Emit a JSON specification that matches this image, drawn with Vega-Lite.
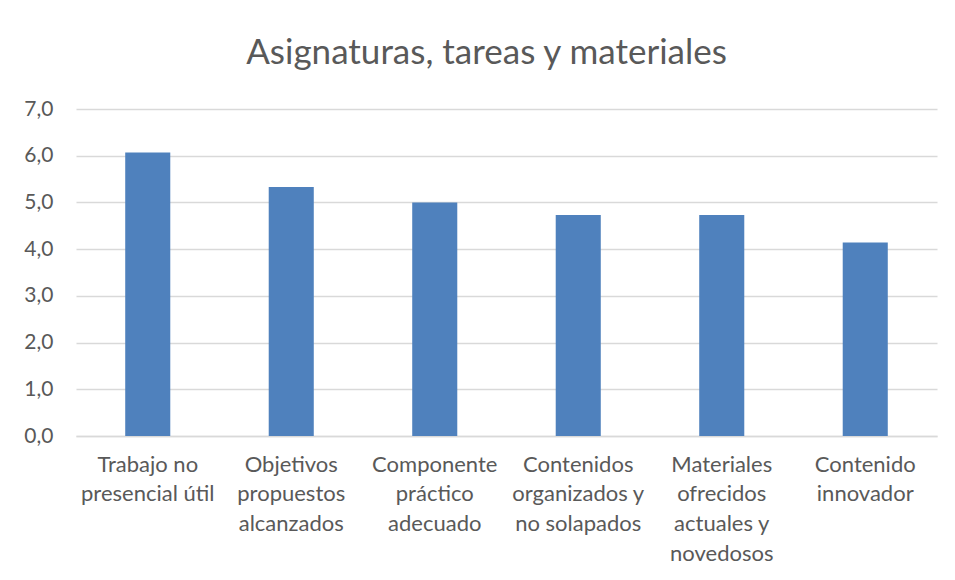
{
  "$schema": "https://vega.github.io/schema/vega-lite/v6.json",
  "width": 861,
  "height": 327,
  "autosize": {"type": "none"},
  "padding": {"left": 76, "top": 109, "right": 18, "bottom": 144},
  "background": "white",
  "data": {
    "values": [
      {"item": "Trabajo no presencial útil", "value": 6.07},
      {"item": "Objetivos propuestos alcanzados", "value": 5.33},
      {"item": "Componente práctico adecuado", "value": 5.0},
      {"item": "Contenidos organizados y no solapados", "value": 4.73},
      {"item": "Materiales ofrecidos actuales y novedosos", "value": 4.73},
      {"item": "Contenido innovador", "value": 4.14}
    ]
  },
  "title": {
    "text": "Asignaturas, tareas y materiales",
    "anchor": "middle",
    "frame": "group",
    "dx": -20,
    "offset": 27,
    "font": "Lato",
    "fontSize": 35,
    "fontWeight": "normal",
    "color": "#595959"
  },
  "mark": {"type": "bar", "color": "#4F81BD"},
  "encoding": {
    "x": {
      "field": "item",
      "type": "nominal",
      "sort": null,
      "scale": {"paddingInner": 0.686, "paddingOuter": 0.343},
      "axis": {
        "title": null,
        "labelAngle": 0,
        "labelExpr": "datum.label == 'Trabajo no presencial útil' ? ['Trabajo no', 'presencial útil'] : datum.label == 'Objetivos propuestos alcanzados' ? ['Objetivos', 'propuestos', 'alcanzados'] : datum.label == 'Componente práctico adecuado' ? ['Componente', 'práctico', 'adecuado'] : datum.label == 'Contenidos organizados y no solapados' ? ['Contenidos', 'organizados y', 'no solapados'] : datum.label == 'Materiales ofrecidos actuales y novedosos' ? ['Materiales', 'ofrecidos', 'actuales y', 'novedosos'] : ['Contenido', 'innovador']",
        "ticks": false,
        "domainColor": "#D9D9D9",
        "domainWidth": 1.5,
        "labelFont": "Lato",
        "labelFontSize": 22,
        "labelColor": "#595959",
        "labelLineHeight": 29.7,
        "labelPadding": 18,
        "labelBaseline": "top",
        "labelLimit": 200
      }
    },
    "y": {
      "field": "value",
      "type": "quantitative",
      "scale": {"domain": [0, 7]},
      "axis": {
        "title": null,
        "values": [0, 1, 2, 3, 4, 5, 6, 7],
        "labelExpr": "replace(format(datum.value, '.1f'), '.', ',')",
        "ticks": false,
        "domain": false,
        "gridColor": "#D9D9D9",
        "gridWidth": 1.5,
        "labelFont": "Lato",
        "labelFontSize": 21,
        "labelColor": "#595959",
        "labelPadding": 23
      }
    }
  },
  "config": {"view": {"stroke": null}}
}
